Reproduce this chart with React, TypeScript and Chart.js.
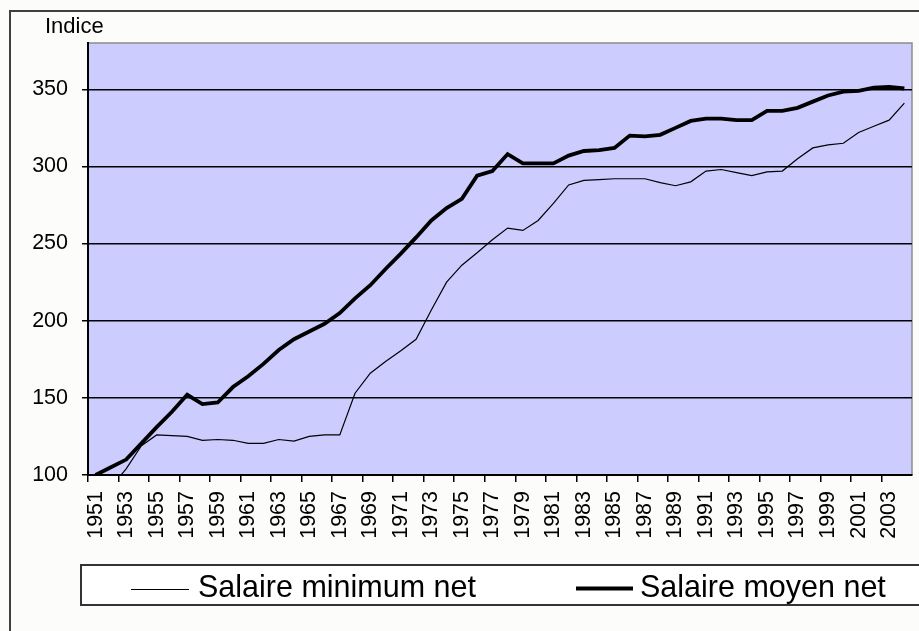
import React, { useEffect, useRef } from "react";
import { Chart, registerables } from "chart.js";

Chart.register(...registerables);

const years = [
  "1951", "1952", "1953", "1954", "1955", "1956", "1957", "1958", "1959", "1960",
  "1961", "1962", "1963", "1964", "1965", "1966", "1967", "1968", "1969", "1970",
  "1971", "1972", "1973", "1974", "1975", "1976", "1977", "1978", "1979", "1980",
  "1981", "1982", "1983", "1984", "1985", "1986", "1987", "1988", "1989", "1990",
  "1991", "1992", "1993", "1994", "1995", "1996", "1997", "1998", "1999", "2000",
  "2001", "2002", "2003", "2004",
];

const salaireMinimum = [
  85, 92, 104, 119, 126, 125.5, 125, 122.5, 123, 122.5,
  120.5, 120.5, 123, 122, 125, 126, 126, 153, 166, 173.5,
  180.5, 188, 207, 225, 236, 244, 252.5, 260, 258.5, 265,
  276, 288, 291, 291.5, 292, 292, 292, 289.5, 287.5, 290,
  297, 298, 296, 294, 296.5, 297, 305, 312, 314, 315,
  322, 326, 330, 341,
];

const salaireMoyen = [
  100, 105, 110, 120.5, 131, 141, 152, 146, 147, 157,
  164, 172, 181, 188, 193, 198, 205, 214.5, 223, 233.5,
  243.5, 254, 265, 273, 279, 294, 297, 308, 302, 302,
  302, 307, 310, 310.5, 312, 320, 319.5, 320.5, 325, 329.5,
  331, 331, 330, 330, 336, 336, 338, 342, 346, 348.5,
  349, 351, 351.5, 350.5,
];

const seriesLabels = ["Salaire minimum net", "Salaire moyen net"];
const yTitle = "Indice";

const FONT = "'Liberation Sans', Arial, sans-serif";

const decorPlugin = {
  id: "decor",
  beforeDraw(chart: any) {
    const { ctx, chartArea, width, height } = chart;
    ctx.save();
    ctx.fillStyle = "#FCFDFB";
    ctx.fillRect(0, 0, width, height);
    ctx.strokeStyle = "#404040";
    ctx.lineWidth = 2;
    ctx.strokeRect(10, 11, width + 20, height + 20);
    ctx.fillStyle = "#CCCCFF";
    ctx.fillRect(chartArea.left, chartArea.top, chartArea.right - chartArea.left, chartArea.bottom - chartArea.top);
    ctx.strokeStyle = "#8C8C8C";
    ctx.lineWidth = 1.5;
    ctx.beginPath();
    ctx.moveTo(chartArea.left, chartArea.top);
    ctx.lineTo(chartArea.right, chartArea.top);
    ctx.lineTo(chartArea.right, chartArea.bottom);
    ctx.stroke();
    ctx.restore();
  },
  afterDraw(chart: any) {
    const { ctx } = chart;
    ctx.save();
    ctx.fillStyle = "#000";
    ctx.font = `22px ${FONT}`;
    ctx.textBaseline = "alphabetic";
    ctx.textAlign = "left";
    ctx.fillText(yTitle, 45, 33);
    ctx.fillStyle = "#FFFFFF";
    ctx.fillRect(81, 565, 860, 40);
    ctx.strokeStyle = "#333";
    ctx.lineWidth = 2;
    ctx.strokeRect(81, 565, 860, 40);
    const ds = chart.data.datasets;
    ctx.strokeStyle = "#000";
    ctx.lineWidth = ds[0].borderWidth;
    ctx.beginPath();
    ctx.moveTo(131, 589.5);
    ctx.lineTo(189, 589.5);
    ctx.stroke();
    ctx.font = `30.5px ${FONT}`;
    ctx.fillStyle = "#000";
    ctx.fillText(ds[0].label, 198, 597);
    ctx.lineWidth = ds[1].borderWidth;
    ctx.beginPath();
    ctx.moveTo(576, 588.5);
    ctx.lineTo(633, 588.5);
    ctx.stroke();
    ctx.fillText(ds[1].label, 640, 597);
    ctx.restore();
  },
};

export default function App() {
  const ref = useRef<HTMLCanvasElement | null>(null);

  useEffect(() => {
    if (!ref.current) return;
    const chart = new Chart(ref.current, {
      type: "line",
      data: {
        labels: years,
        datasets: [
          {
            label: seriesLabels[0],
            data: salaireMinimum,
            borderColor: "#000",
            borderWidth: 1.2,
            pointRadius: 0,
            tension: 0,
          },
          {
            label: seriesLabels[1],
            data: salaireMoyen,
            borderColor: "#000",
            borderWidth: 3.8,
            pointRadius: 0,
            tension: 0,
          },
        ],
      },
      options: {
        responsive: false,
        animation: false,
        layout: { padding: { top: 43, right: 7, left: 0, bottom: 0 } },
        plugins: {
          legend: { display: false },
          tooltip: { enabled: false },
          title: { display: false },
        },
        scales: {
          x: {
            type: "category",
            offset: true,
            afterFit: (s: any) => {
              s.height = 156;
              s.paddingLeft = 0;
              s.paddingRight = 0;
            },
            border: { display: true, color: "#000", width: 2 },
            grid: {
              display: true,
              offset: true,
              drawOnChartArea: false,
              drawTicks: true,
              tickLength: 7,
              lineWidth: 1.5,
              color: (c: any) => (c.index % 2 === 0 ? "#000" : "rgba(0,0,0,0)"),
            },
            ticks: {
              autoSkip: false,
              maxRotation: 90,
              minRotation: 90,
              padding: 9,
              color: "#000",
              font: { family: FONT, size: 21.5 },
              callback: (_v: any, i: number) => (i % 2 === 0 ? years[i] : ""),
            },
          },
          y: {
            min: 100,
            max: 380,
            afterFit: (s: any) => {
              s.width = 88;
              s.paddingTop = 0;
              s.paddingBottom = 0;
            },
            border: { display: true, color: "#000", width: 2 },
            grid: {
              color: "#000",
              lineWidth: 1.5,
              drawTicks: true,
              tickLength: 6,
            },
            ticks: {
              stepSize: 50,
              includeBounds: false,
              padding: 14,
              color: "#000",
              font: { family: FONT, size: 21.5 },
            },
          },
        },
      },
      plugins: [decorPlugin],
    });
    return () => chart.destroy();
  }, []);

  return (
    <canvas
      ref={ref}
      width={919}
      height={631}
      style={{ position: "absolute", left: 0, top: 0, width: 919, height: 631 }}
    />
  );
}
